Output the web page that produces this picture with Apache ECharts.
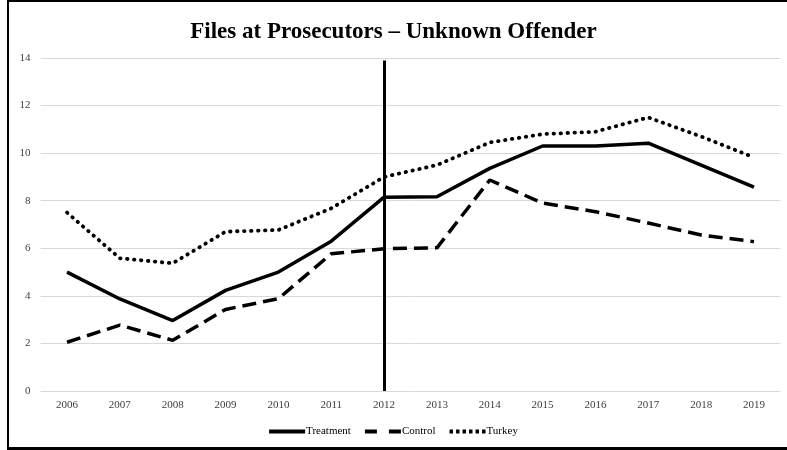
<!DOCTYPE html>
<html>
<head>
<meta charset="utf-8">
<script src="https://cdn.jsdelivr.net/npm/echarts@6/dist/echarts.min.js"></script>
<style>
  html, body { margin: 0; padding: 0; background: #fff; }
  #chart { position: absolute; left: 0; top: 0; width: 787px; height: 450px; }
  #frame {
    position: absolute; left: 7px; top: 0; width: 785px; height: 445px;
    border-left: 2px solid #000; border-top: 2px solid #000; border-bottom: 3px solid #000;
    pointer-events: none;
  }
</style>
</head>
<body>
<div id="chart"></div>
<div id="frame"></div>
<script>
var years = ['2006', '2007', '2008', '2009', '2010', '2011', '2012', '2013', '2014', '2015', '2016', '2017', '2018', '2019']
var treatment = [5.0, 3.87, 2.96, 4.23, 5.0, 6.3, 8.15, 8.17, 9.36, 10.3, 10.3, 10.42, 9.5, 8.57]
var control = [2.05, 2.77, 2.13, 3.43, 3.88, 5.77, 5.98, 6.02, 8.87, 7.9, 7.54, 7.06, 6.56, 6.28]
var turkey = [7.5, 5.58, 5.37, 6.7, 6.77, 7.68, 9.0, 9.5, 10.45, 10.8, 10.9, 11.5, 10.7, 9.82]
var cutYear = '2012'

var serif = "'Liberation Serif', 'Times New Roman', serif"

// legend icons drawn as paths so they look like the line styles
var iconSolid = 'path://M0,0H36V4H0Z'
var iconDash = 'path://M0,0H12V4H0ZM24,0H36V4H24Z'
var iconDot = 'path://M0,0H3.5V4H0ZM6.5,0H10V4H6.5ZM13,0H16.5V4H13ZM19.5,0H23V4H19.5ZM26,0H29.5V4H26ZM32.5,0H36V4H32.5Z'

var myChart = echarts.init(document.getElementById('chart'))
var option = {
  animation: false,
  title: {
    text: 'Files at Prosecutors \u2013 Unknown Offender',
    left: 'center',
    top: 16,
    textStyle: { fontFamily: serif, fontSize: 23, fontWeight: 'bold', color: '#000' }
  },
  legend: {
    bottom: 8,
    left: 'center',
    itemWidth: 36,
    itemHeight: 4,
    itemGap: 14,
    textStyle: { fontFamily: serif, fontSize: 11, color: '#000', padding: [0, 0, 0, -4] },
    data: [
      { name: 'Treatment', icon: iconSolid },
      { name: 'Control', icon: iconDash },
      { name: 'Turkey', icon: iconDot }
    ]
  },
  grid: { left: 40.6, right: 6.6, top: 58, bottom: 59 },
  xAxis: {
    type: 'category',
    data: years,
    boundaryGap: true,
    axisLine: { show: false },
    axisTick: { show: false },
    axisLabel: { fontFamily: serif, fontSize: 11, color: '#404040', margin: 9 }
  },
  yAxis: {
    type: 'value',
    min: 0,
    max: 14,
    interval: 2,
    axisLine: { show: false },
    axisTick: { show: false },
    axisLabel: { fontFamily: serif, fontSize: 11, color: '#404040', margin: 10 },
    splitLine: { lineStyle: { color: '#d9d9d9', width: 1 } }
  },
  series: [
    {
      name: 'Treatment',
      type: 'line',
      data: treatment,
      symbol: 'none',
      lineStyle: { color: '#000', width: 3.5, type: 'solid' },
      itemStyle: { color: '#000' },
      markLine: {
        silent: true,
        symbol: 'none',
        label: { show: false },
        lineStyle: { color: '#000', width: 3, type: 'solid' },
        data: [[{ coord: [cutYear, 0] }, { coord: [cutYear, 13.9] }]]
      }
    },
    {
      name: 'Control',
      type: 'line',
      data: control,
      symbol: 'none',
      lineStyle: { color: '#000', width: 3.5, type: [14, 7] },
      itemStyle: { color: '#000' }
    },
    {
      name: 'Turkey',
      type: 'line',
      data: turkey,
      symbol: 'none',
      lineStyle: { color: '#000', width: 3.8, type: [0.5, 6.5], cap: 'round' },
      itemStyle: { color: '#000' }
    }
  ]
}
myChart.setOption(option)
</script>
</body>
</html>
